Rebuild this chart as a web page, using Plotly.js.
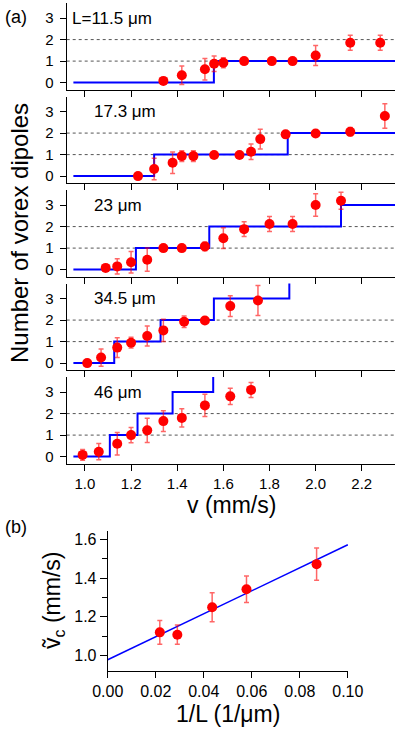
<!DOCTYPE html>
<html>
<head>
<meta charset="utf-8">
<script src="https://cdn.plot.ly/plotly-3.0.1.min.js"></script>
<style>
  html, body { margin: 0; padding: 0; background: #fff; }
  #chart { width: 403px; height: 731px; }
</style>
</head>
<body>
<div id="chart"></div>
<script>
// panel (a): number of vortex dipoles vs v, one panel per channel length
var panelLabels = ['L=11.5 μm', '17.3 μm', '23 μm', '34.5 μm', '46 μm'];

var v1 = [1.34, 1.42, 1.52, 1.56, 1.60, 1.69, 1.81, 1.90, 2.00, 2.15, 2.28];
var n1 = [0.08, 0.34, 0.62, 0.88, 0.92, 1.00, 1.00, 1.00, 1.26, 1.85, 1.85];
var e1 = [0.15, 0.43, 0.50, 0.36, 0.23, 0.10, 0.08, 0.08, 0.46, 0.35, 0.35];

var v2 = [1.23, 1.30, 1.38, 1.42, 1.47, 1.56, 1.67, 1.72, 1.76, 1.87, 2.00, 2.15, 2.30];
var n2 = [0.00, 0.33, 0.62, 0.93, 0.93, 0.98, 0.98, 1.13, 1.72, 1.94, 1.98, 2.06, 2.79];
var e2 = [0.05, 0.50, 0.50, 0.25, 0.25, 0.08, 0.08, 0.36, 0.46, 0.15, 0.08, 0.20, 0.57];

var v3 = [1.09, 1.14, 1.20, 1.27, 1.34, 1.42, 1.52, 1.60, 1.69, 1.80, 1.90, 2.00, 2.11];
var n3 = [0.08, 0.15, 0.34, 0.46, 1.00, 1.00, 1.08, 1.46, 1.88, 2.12, 2.12, 3.00, 3.20];
var e3 = [0.10, 0.35, 0.50, 0.54, 0.05, 0.05, 0.20, 0.48, 0.34, 0.35, 0.35, 0.52, 0.40];

var v4 = [1.01, 1.07, 1.14, 1.20, 1.27, 1.34, 1.43, 1.52, 1.63, 1.75];
var n4 = [0.00, 0.26, 0.72, 0.95, 1.26, 1.52, 1.92, 1.98, 2.65, 2.91];
var e4 = [0.05, 0.40, 0.46, 0.25, 0.46, 0.52, 0.27, 0.10, 0.48, 0.70];

var v5 = [0.99, 1.06, 1.14, 1.20, 1.27, 1.34, 1.42, 1.52, 1.63, 1.72];
var n5 = [0.08, 0.23, 0.60, 1.00, 1.22, 1.65, 1.80, 2.38, 2.80, 3.10];
var e5 = [0.25, 0.38, 0.52, 0.35, 0.56, 0.48, 0.42, 0.52, 0.38, 0.35];

// model staircase (step edges and levels)
var stepV1 = [0.95, 1.559, 2.345];
var stepN1 = [0, 1, 1];
var stepV2 = [0.95, 1.30, 1.879, 2.345];
var stepN2 = [0, 1, 2, 2];
var stepV3 = [0.95, 1.221, 1.539, 2.110, 2.345];
var stepN3 = [0, 1, 2, 3, 3];
var stepV4 = [0.95, 1.127, 1.328, 1.559, 1.886];
var stepN4 = [0, 1, 2, 3, 4];
var stepV5 = [0.95, 1.108, 1.228, 1.380, 1.556];
var stepN5 = [0, 1, 2, 3, 4];

var gridLevels = [1, 2];

// panel (b): critical velocity vs 1/L
var invL = [0.0217, 0.0290, 0.0435, 0.0578, 0.0870];
var vc = [1.120, 1.108, 1.250, 1.343, 1.473];
var vcErr = [0.061, 0.050, 0.075, 0.068, 0.083];
var fitX = [0, 0.1];
var fitY = [0.978, 1.573];

var W = 403, H = 731;
var FONT = '"Liberation Sans", Arial, sans-serif';

function xd(l, r) { return [l / W, r / W]; }
function yd(top, bottom) { return [1 - bottom / H, 1 - top / H]; }
function px(x) { return x / W; }
function py(y) { return 1 - y / H; }

var velocities = [v1, v2, v3, v4, v5];
var counts = [n1, n2, n3, n4, n5];
var errs = [e1, e2, e3, e4, e5];
var stepsV = [stepV1, stepV2, stepV3, stepV4, stepV5];
var stepsN = [stepN1, stepN2, stepN3, stepN4, stepN5];

var panelBottoms = [89.5, 183, 276.5, 370, 463.5];
var panelHeight = 86.5;
var labelLeft = [70, 92, 92, 92, 92];

var traces = [];
var layout = {
  width: W,
  height: H,
  margin: { l: 0, r: 0, t: 0, b: 0 },
  paper_bgcolor: '#fff',
  plot_bgcolor: 'rgba(0,0,0,0)',
  showlegend: false,
  font: { family: FONT, color: '#000' },
  shapes: [],
  annotations: []
};

for (var i = 0; i < 5; i++) {
  var k = i + 1;
  var xa = 'x' + k, ya = 'y' + k;

  traces.push({
    x: stepsV[i], y: stepsN[i], xaxis: xa, yaxis: ya,
    type: 'scatter', mode: 'lines',
    line: { color: '#0000ff', width: 2, shape: 'hv' },
    hoverinfo: 'skip'
  });
  traces.push({
    x: velocities[i], y: counts[i], xaxis: xa, yaxis: ya,
    type: 'scatter', mode: 'markers',
    marker: { color: '#ff0000', size: 10 },
    error_y: { type: 'data', array: errs[i], visible: true,
      color: 'rgba(255,0,0,0.6)', thickness: 1.5, width: 2.5 }
  });

  layout['xaxis' + k] = {
    domain: xd(66.7, 395), range: [0.921, 2.344], anchor: ya,
    showline: true, linecolor: '#000', linewidth: 1,
    ticks: 'outside', ticklen: 6, tickcolor: '#000',
    tick0: 0, dtick: 0.2, tickformat: '.1f',
    showticklabels: k === 5, tickfont: { size: 15, color: '#000' },
    showgrid: false, zeroline: false
  };
  layout['yaxis' + k] = {
    domain: yd(panelBottoms[i] - panelHeight, panelBottoms[i]),
    range: [-0.32, 3.7], anchor: xa,
    showline: true, linecolor: '#000', linewidth: 1,
    ticks: 'outside', ticklen: 6, tickcolor: '#000',
    tickvals: [0, 1, 2, 3], tickfont: { size: 15, color: '#000' },
    ticklabelstandoff: 3,
    showgrid: false, zeroline: false
  };

  gridLevels.forEach(function (lev) {
    layout.shapes.push({
      type: 'line', xref: xa + ' domain', yref: ya,
      x0: 0, x1: 1, y0: lev, y1: lev, layer: 'below',
      line: { color: '#555', width: 1, dash: 'dot' }
    });
  });

  layout.annotations.push({
    text: panelLabels[i], xref: 'paper', yref: ya,
    x: px(labelLeft[i]), y: 3, xanchor: 'left', yanchor: 'middle',
    showarrow: false, font: { size: 17, color: '#000' }
  });
}

// panel (b)
traces.push({
  x: fitX, y: fitY, xaxis: 'x6', yaxis: 'y6',
  type: 'scatter', mode: 'lines',
  line: { color: '#0000ff', width: 1.5 },
  hoverinfo: 'skip'
});
traces.push({
  x: invL, y: vc, xaxis: 'x6', yaxis: 'y6',
  type: 'scatter', mode: 'markers',
  marker: { color: '#ff0000', size: 10 },
  error_y: { type: 'data', array: vcErr, visible: true,
    color: 'rgba(255,0,0,0.6)', thickness: 1.5, width: 2.5 }
});

layout.xaxis6 = {
  domain: xd(107.7, 348.3), range: [0, 0.1002], anchor: 'y6',
  showline: true, linecolor: '#000', linewidth: 1,
  ticks: 'outside', ticklen: 6, tickcolor: '#000',
  tick0: 0, dtick: 0.02, tickformat: '.2f',
  tickfont: { size: 16, color: '#000' },
  showgrid: false, zeroline: false
};
layout.yaxis6 = {
  domain: yd(530.5, 671), range: [0.92, 1.647], anchor: 'x6',
  showline: true, linecolor: '#000', linewidth: 1,
  ticks: 'outside', ticklen: 7, tickcolor: '#000',
  tick0: 0, dtick: 0.2, tickformat: '.1f',
  tickfont: { size: 16, color: '#000' },
  minor: { dtick: 0.1, ticks: 'outside', ticklen: 5, tickcolor: '#000' },
  showgrid: false, zeroline: false
};

// titles and panel tags
var titleFont = { size: 23, color: '#000' };
layout.annotations.push(
  { text: '(a)', xref: 'paper', yref: 'paper', x: px(3), y: py(17),
    xanchor: 'left', yanchor: 'middle', showarrow: false, font: { size: 18 } },
  { text: 'Number of vorex dipoles', xref: 'paper', yref: 'paper',
    x: px(20), y: py(233), textangle: -90, xanchor: 'center', yanchor: 'middle',
    showarrow: false, font: { size: 24, color: '#000' } },
  { text: 'v (mm/s)', xref: 'paper', yref: 'paper', x: px(231), y: py(505),
    xanchor: 'center', yanchor: 'middle', showarrow: false, font: titleFont },
  { text: '(b)', xref: 'paper', yref: 'paper', x: px(3), y: py(527),
    xanchor: 'left', yanchor: 'middle', showarrow: false, font: { size: 18 } },
  { text: 'ṽ<sub>c</sub> (mm/s)', xref: 'paper', yref: 'paper',
    x: px(53), y: py(601), textangle: -90, xanchor: 'center', yanchor: 'middle',
    showarrow: false, font: titleFont },
  { text: '1/L (1/μm)', xref: 'paper', yref: 'paper', x: px(228), y: py(714),
    xanchor: 'center', yanchor: 'middle', showarrow: false, font: titleFont }
);

document.addEventListener('DOMContentLoaded', function () {
  Plotly.newPlot('chart', traces, layout, { staticPlot: true, displayModeBar: false });
});
</script>
</body>
</html>
